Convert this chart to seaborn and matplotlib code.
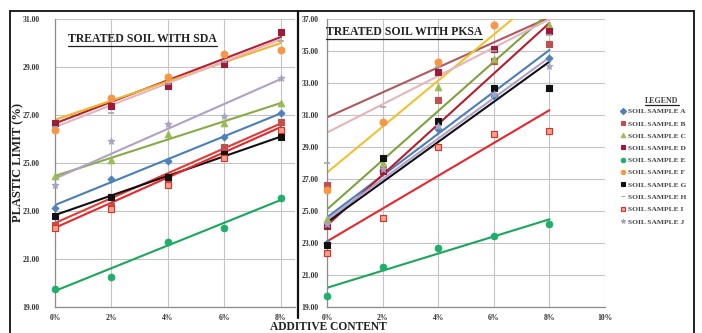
import numpy as np
import pandas as pd
import seaborn as sns
import matplotlib.pyplot as plt
from matplotlib.lines import Line2D

# additive content (%) and soil samples
additive = [0, 2, 4, 6, 8]
samples = ['A', 'B', 'C', 'D', 'E', 'F', 'G', 'H', 'I', 'J']

# plastic limit (%) - soil treated with SDA
sda_a = [23.11, 24.33, 25.08, 26.10, 27.10]
sda_b = [22.42, 23.20, 24.20, 25.68, 26.72]
sda_c = [24.46, 25.12, 26.20, 26.65, 27.49]
sda_d = [26.68, 27.37, 28.22, 29.12, 30.45]
sda_e = [19.75, 20.24, 21.70, 22.30, 23.53]
sda_f = [26.37, 27.69, 28.60, 29.54, 29.71]
sda_g = [22.80, 23.60, 24.40, 25.36, 26.10]
sda_h = [26.50, 27.08, 28.30, 29.20, 30.10]
sda_i = [22.30, 23.10, 24.10, 25.22, 26.37]
sda_j = [24.08, 25.92, 26.63, 26.97, 28.53]

# plastic limit (%) - soil treated with PKSA (F at 8% lies above the plotted range)
pksa_a = [22.99, 27.50, 30.10, 32.20, 34.54]
pksa_b = [26.63, 27.56, 31.94, 34.40, 35.42]
pksa_c = [24.50, 27.98, 32.73, 34.50, 36.62]
pksa_d = [24.06, 27.50, 33.71, 35.10, 36.27]
pksa_e = [19.71, 21.52, 22.67, 23.44, 24.17]
pksa_f = [26.31, 30.54, 34.29, 36.62, np.nan]
pksa_g = [22.87, 28.33, 30.63, 32.71, 32.71]
pksa_h = [28.00, 31.50, 34.00, 35.00, 36.00]
pksa_i = [22.39, 24.54, 28.98, 29.79, 30.00]
pksa_j = [24.20, 27.60, 30.30, 32.30, 34.06]

# linear trend lines as drawn on the chart (value at 0% and at 8%)
sda_trend_start = [23.25, 22.50, 24.46, 26.65, 19.67, 26.80, 22.83, 26.50, 22.30, 24.35]
sda_trend_end = [27.07, 26.65, 27.50, 30.25, 23.46, 30.00, 26.10, 30.15, 26.50, 28.50]
pksa_trend_start = [24.60, 30.85, 25.10, 24.10, 20.20, 27.40, 24.30, 29.90, 23.10, 24.45]
pksa_trend_end = [35.06, 37.10, 37.40, 36.75, 24.48, 38.90, 34.33, 36.98, 31.30, 34.60]

sda = [sda_a, sda_b, sda_c, sda_d, sda_e, sda_f, sda_g, sda_h, sda_i, sda_j]
pksa = [pksa_a, pksa_b, pksa_c, pksa_d, pksa_e, pksa_f, pksa_g, pksa_h, pksa_i, pksa_j]

# marker / line styles per sample
style = {
    'A': dict(marker='D', face='#4F81BD', edge='#4F81BD', s=12, line='#4A7EBB'),
    'B': dict(marker='s', face='#C0504D', edge='#C0504D', s=20, line='#E23B33'),
    'C': dict(marker='^', face='#9BBB59', edge='#9BBB59', s=22, line='#86AD45'),
    'D': dict(marker='s', face='#9E1A3A', edge='#9E1A3A', s=20, line='#B51E2E'),
    'E': dict(marker='o', face='#1FAF6A', edge='#1FAF6A', s=22, line='#1AA75A'),
    'F': dict(marker='o', face='#F79646', edge='#F79646', s=24, line='#F2B32A'),
    'G': dict(marker='s', face='#111111', edge='#111111', s=18, line='#111111'),
    'H': dict(marker='_', face='#A6A6A6', edge='#A6A6A6', s=18, line='#E6B4BC'),
    'I': dict(marker='s', face='#F4A08A', edge='#E0302A', s=20, line='#E8262B'),
    'J': dict(marker='*', face='#A9A2C2', edge='#A9A2C2', s=24, line='#B1A0C7'),
}
pksa_line_override = {'B': '#B0585E', 'F': '#F2C12E', 'C': '#7FA23F'}

sns.set_theme(style='white')
plt.rcParams['font.family'] = ['Liberation Serif', 'DejaVu Serif']
plt.rcParams['font.weight'] = 'bold'

fig = plt.figure(figsize=(7.02, 3.33), dpi=100)
W, H = 702.0, 333.0


def fx(px):
    return px / W


def fy(py):
    return 1 - py / H


ax1 = fig.add_axes([fx(55), fy(307), 240 / W, 288 / H])
ax2 = fig.add_axes([fx(327), fy(307), 278 / W, 288 / H])


def draw_panel(ax, data, t0, t1, overrides):
    for k, name in enumerate(samples):
        st = style[name]
        lc = overrides.get(name, st['line'])
        trend = pd.DataFrame({'x': [0, 8], 'y': [t0[k], t1[k]]})
        sns.lineplot(data=trend, x='x', y='y', ax=ax, color=lc, lw=1.5, zorder=2, legend=False)
        pts = pd.DataFrame({'x': additive, 'y': data[k]}).dropna()
        if st['marker'] in ('_', '+'):
            sns.scatterplot(data=pts, x='x', y='y', ax=ax, marker=st['marker'], color=st['face'],
                            s=st['s'], linewidth=1.2, zorder=3, legend=False, clip_on=False)
        else:
            sns.scatterplot(data=pts, x='x', y='y', ax=ax, marker=st['marker'], color=st['face'],
                            edgecolor=st['edge'], s=st['s'], linewidth=0.8, zorder=3,
                            legend=False, clip_on=False)
    ax.set_xlabel('')
    ax.set_ylabel('')
    ax.grid(True, color='#C4C4C4', lw=0.8)
    ax.set_axisbelow(True)
    for side in ['top', 'right']:
        ax.spines[side].set_visible(False)
    for side in ['left', 'bottom']:
        ax.spines[side].set_color('#8C8C8C')
        ax.spines[side].set_linewidth(0.9)


draw_panel(ax1, sda, sda_trend_start, sda_trend_end, {})
draw_panel(ax2, pksa, pksa_trend_start, pksa_trend_end, pksa_line_override)

ax1.set_xlim(0, 8.5)
ax1.set_ylim(19, 31)
ax1.set_xticks([0, 2, 4, 6, 8])
ax1.set_yticks(np.arange(19, 32, 2))
ax2.set_xlim(0, 10)
ax2.set_ylim(19, 37)
ax2.set_xticks([0, 2, 4, 6, 8, 10])
ax2.set_yticks(np.arange(19, 38, 2))

for ax, ypad in [(ax1, 8), (ax2, 3)]:
    ax.set_xticklabels([f'{int(v)}%' for v in ax.get_xticks()])
    ax.set_yticklabels([f'{v:.2f}' for v in ax.get_yticks()])
    ax.tick_params(axis='both', labelsize=5.5, colors='#333333', length=3, width=0.8)
    ax.tick_params(axis='y', pad=ypad)
    ax.tick_params(axis='x', pad=2)
    for lab in ax.get_xticklabels() + ax.get_yticklabels():
        lab.set_fontweight('bold')

t1 = ax1.text((68 - 55) / 240, (307 - 39) / 288, 'TREATED SOIL WITH SDA', transform=ax1.transAxes,
              fontsize=8.5, fontweight='bold', color='#222222', va='center', ha='left')
t2 = fig.text(fx(326), fy(32), 'TREATED SOIL WITH PKSA', fontsize=8.5, fontweight='bold',
              color='#222222', va='center', ha='left')

fig.text(fx(18), fy(163), 'PLASTIC LIMIT (%)', rotation=90, fontsize=9, fontweight='bold',
         color='#222222', va='center', ha='center')
fig.text(fx(328), fy(327.5), 'ADDITIVE CONTENT', fontsize=8.3, fontweight='bold',
         color='#222222', va='center', ha='center')

# legend
handles = []
for name in samples:
    st = style[name]
    handles.append(Line2D([], [], ls='none', marker=st['marker'], markerfacecolor=st['face'],
                          markeredgecolor=st['edge'], color=st['face'], markersize=3.2,
                          markeredgewidth=0.8))
leg = fig.legend(handles, [f'SOIL SAMPLE {n}' for n in samples], loc='upper left',
                 bbox_to_anchor=(fx(621), fy(108)), frameon=False, fontsize=5.4,
                 labelspacing=0.8, handlelength=0.6, handletextpad=0.4, borderpad=0,
                 borderaxespad=0)
for txt in leg.get_texts():
    txt.set_color('#444444')
    txt.set_fontweight('bold')
t3 = fig.text(fx(662), fy(101), 'LEGEND', fontsize=5.8, fontweight='bold', color='#444444',
              va='center', ha='center')

# frame lines
frame = dict(transform=fig.transFigure, color='#111111', lw=1.3)
fig.add_artist(Line2D([fx(10), fx(694)], [fy(11), fy(11)], **frame))
fig.add_artist(Line2D([fx(10), fx(10)], [fy(11), fy(333)], **frame))
fig.add_artist(Line2D([fx(694), fx(694)], [fy(11), fy(333)], **frame))
fig.add_artist(Line2D([fx(298), fx(298)], [fy(11), fy(318)], transform=fig.transFigure,
                      color='#111111', lw=1.6))

# underline the titles
fig.canvas.draw()
renderer = fig.canvas.get_renderer()
for t in [t1, t2, t3]:
    bb = t.get_window_extent(renderer)
    y = bb.y0 - 0.5
    fig.add_artist(Line2D([bb.x0 / W, bb.x1 / W], [y / H, y / H], transform=fig.transFigure,
                          color='#222222', lw=0.9))

fig.savefig('out.png', dpi=100)
